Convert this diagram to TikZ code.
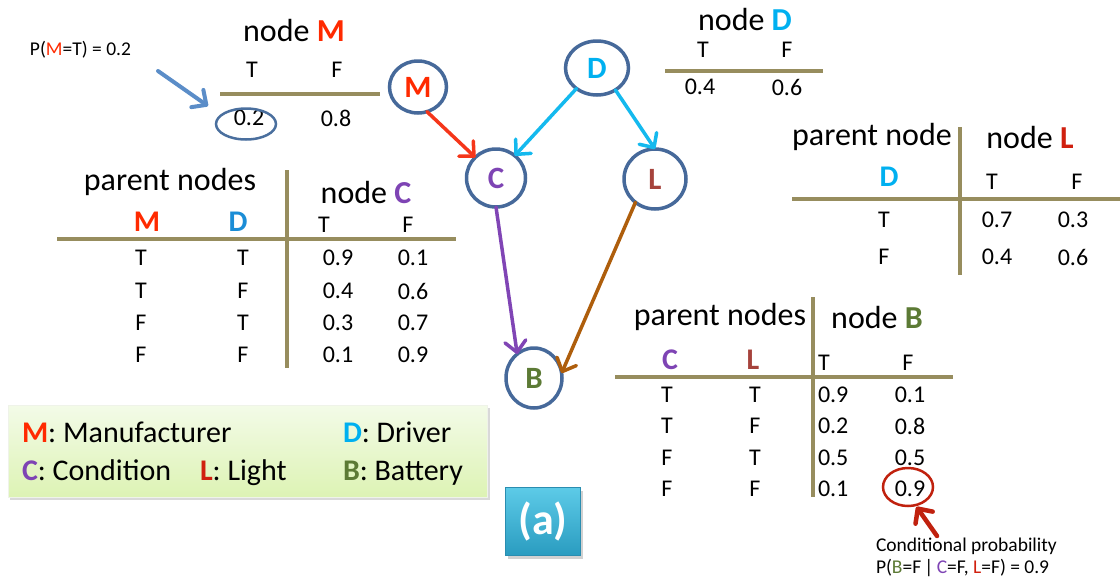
\documentclass[tikz,border=0pt]{standalone}
\usepackage{fontspec}
\setmainfont{Carlito}
\usetikzlibrary{shapes.geometric,arrows.meta}

% palette
\definecolor{tanline}{HTML}{978D5E}
\definecolor{nodeedge}{HTML}{46699A}
\definecolor{colM}{HTML}{FF2A00}
\definecolor{colD}{HTML}{00B0F0}
\definecolor{colDb}{HTML}{1B8DD6}
\definecolor{colC}{HTML}{7E44B4}
\definecolor{colL}{HTML}{A6433C}
\definecolor{colLr}{HTML}{D0200F}
\definecolor{colB}{HTML}{5C7A35}
\definecolor{arrRed}{HTML}{F5361A}
\definecolor{arrCyan}{HTML}{14B9EE}
\definecolor{arrPurple}{HTML}{8045B5}
\definecolor{arrBrown}{HTML}{AE5E0C}
\definecolor{noteBlue}{HTML}{5B8DC8}
\definecolor{ringBlue}{HTML}{4A6F9E}
\definecolor{noteRed}{HTML}{C0210E}
\definecolor{legTop}{HTML}{F3FBE8}
\definecolor{legBot}{HTML}{DDF3B4}
\definecolor{btnTop}{HTML}{5DCBE8}
\definecolor{btnBot}{HTML}{2A9CC0}
\definecolor{btnEdge}{HTML}{2A8DB0}

\tikzset{
  every node/.style={inner sep=0pt, outer sep=0pt},
  hdr/.style={font=\fontsize{32}{36}\selectfont},
  cell/.style={font=\fontsize{24}{28}\selectfont},
  lbl/.style={font=\bfseries\fontsize{30}{34}\selectfont},
  legtxt/.style={anchor=base west, font=\fontsize{30}{34}\selectfont},
  note/.style={anchor=base west, font=\fontsize{19.5}{23}\selectfont},
  tabline/.style={draw=tanline, line width=4pt},
  bn/.style={ellipse, draw=nodeedge, line width=3.5pt, fill=white,
             font=\bfseries\fontsize{31}{34}\selectfont},
  edge/.style={line width=3.5pt, line cap=round,
               -{Straight Barb[length=11pt,width=21pt,round]}},
  ring/.style={ellipse, line width=2.5pt},
}

\begin{document}
\begin{tikzpicture}[x=1pt,y=-1pt]
\useasboundingbox (0,0) rectangle (1120,582);

% ---------------- network ----------------
\node[bn, minimum width=57, minimum height=52, text=colM] (M) at (418,87) {M};
\node[bn, minimum width=63, minimum height=54, text=colD] (D) at (597,68) {D};
\node[bn, minimum width=59, minimum height=58, text=colC] (C) at (496,178) {C};
\node[bn, minimum width=62, minimum height=60, text=colL] (L) at (655,179) {L};
\node[bn, minimum width=56, minimum height=60, text=colB] (B) at (534,378) {B};

\draw[edge, draw=arrRed]    (M.-70)  -- (C.135);
\draw[edge, draw=arrCyan]   (D.-135) -- (C.50);
\draw[edge, draw=arrCyan]   (D.-50)  -- (L.north);
\draw[edge, draw=arrPurple] (C.south) -- (B.125);
\draw[edge, draw=arrBrown]  (L.-130) -- (B.10);

% ---------------- node M table ----------------
\node[note] (noteM) at (30,55) {P(\textcolor{colM}{M}=T) = 0.2};
\node[hdr] (titleM) at (294,30) {node \textcolor{colM}{\bfseries M}};
\node[cell] (mT) at (252,70) {T};
\node[cell] (mF) at (337,70) {F};
\draw[tabline] (220,94) -- (380,94);
\node[cell] (m02) at (249,118) {0.2};
\node[cell] (m08) at (336,118) {0.8};
\node[ring, draw=ringBlue, minimum width=60, minimum height=31] (ring02) at (246,124) {};
\coordinate (ptrTail) at (158,71);
\coordinate (ptrHead) at (208,106);
\draw[edge, draw=noteBlue, line width=4pt] (ptrTail) -- (ptrHead);

% ---------------- node D table ----------------
\node[hdr] (titleD) at (745,19) {node \textcolor{colD}{\bfseries D}};
\node[cell] (dT) at (703,50) {T};
\node[cell] (dF) at (787,50) {F};
\draw[tabline] (665,71) -- (823,71);
\node[cell] (d04) at (700,87) {0.4};
\node[cell] (d06) at (787,87) {0.6};

% ---------------- node L table ----------------
\node[hdr] (parL) at (872,137) {parent node};
\node[hdr] (titleL) at (1030,137) {node \textcolor{colLr}{\bfseries L}};
\node[lbl, text=colD] (lD) at (889,177) {D};
\node[cell] (lT) at (992,182) {T};
\node[cell] (lF) at (1077,182) {F};
\draw[tabline] (792,199) -- (1120,199);
\draw[tabline] (960,127) -- (960,275);
\node[cell] (l1a) at (884,220) {T};
\node[cell] (l1b) at (997,220) {0.7};
\node[cell] (l1c) at (1073,220) {0.3};
\node[cell] (l2a) at (884,257) {F};
\node[cell] (l2b) at (997,257) {0.4};
\node[cell] (l2c) at (1073,257) {0.6};

% ---------------- node C table ----------------
\node[hdr] (parC) at (170,182) {parent nodes};
\node[hdr] (titleC) at (366,192) {node \textcolor{colC}{\bfseries C}};
\node[lbl, text=colM] (cM) at (147,222) {M};
\node[lbl, text=colDb] (cD) at (238,222) {D};
\node[cell] (cT) at (324,225) {T};
\node[cell] (cF) at (408,225) {F};
\draw[tabline] (57,239) -- (456,239);
\draw[tabline] (287,170) -- (287,368);
\foreach \y/\a/\b/\p/\q [count=\i] in
  {258/T/T/0.9/0.1, 291/T/F/0.4/0.6, 323/F/T/0.3/0.7, 355/F/F/0.1/0.9}{
  \node[cell] (c\i a) at (141,\y) {\a};
  \node[cell] (c\i b) at (243,\y) {\b};
  \node[cell] (c\i c) at (338,\y) {\p};
  \node[cell] (c\i d) at (413,\y) {\q};
}

% ---------------- node B table ----------------
\node[hdr] (parB) at (720,317) {parent nodes};
\node[hdr] (titleB) at (877,317) {node \textcolor{colB}{\bfseries B}};
\node[lbl, text=colC] (bC) at (670,360) {C};
\node[lbl, text=colL] (bL) at (753,360) {L};
\node[cell, anchor=west] (bT) at (818,363) {T};
\node[cell] (bF) at (908,363) {F};
\draw[tabline] (615,377) -- (953,377);
\draw[tabline] (813,297) -- (813,497);
\foreach \y/\a/\b/\p/\q [count=\i] in
  {395/T/T/0.9/0.1, 426/T/F/0.2/0.8, 458/F/T/0.5/0.5, 489/F/F/0.1/0.9}{
  \node[cell] (b\i a) at (667,\y) {\a};
  \node[cell] (b\i b) at (755,\y) {\b};
  \node[cell, anchor=west] (b\i c) at (818,\y) {\p};
  \node[cell] (b\i d) at (910,\y) {\q};
}
\node[ring, draw=noteRed, minimum width=50, minimum height=38] (ring09) at (908,487) {};
\coordinate (condTail) at (937,536);
\draw[edge, draw=noteRed, line width=4.5pt, shorten >=2pt] (condTail) -- (ring09.-68);
\node[note] (cond1) at (876,551) {Conditional probability};
\node[note] (cond2) at (876,573)
  {P(\textcolor{colB}{B}=F\,|\,\textcolor{colC}{C}=F, \textcolor{colLr}{L}=F) = 0.9};

% ---------------- legend ----------------
\fill[black!25, opacity=0.6] (10,408) rectangle (490,500);
\shade[top color=legTop, bottom color=legBot, draw=legBot!80!black!20!white]
  (8,405) rectangle (487,497);
\node[legtxt] (legM) at (22,442) {\textbf{\textcolor{colM}{M}}: Manufacturer};
\node[legtxt] (legD) at (343,442) {\textbf{\textcolor{colD}{D}}: Driver};
\node[legtxt] (legC) at (22,480) {\textbf{\textcolor{colC}{C}}: Condition};
\node[legtxt] (legL) at (200,480) {\textbf{\textcolor{colLr}{L}}: Light};
\node[legtxt] (legB) at (343,480) {\textbf{\textcolor{colB}{B}}: Battery};

% ---------------- caption button ----------------
\fill[black!30, opacity=0.6] (508,491) rectangle (583,559);
\node[rectangle, top color=btnTop, bottom color=btnBot, draw=btnEdge, line width=1pt,
      minimum width=75, minimum height=68, text=white,
      font=\bfseries\fontsize{44}{48}\selectfont] (tag) at (543,521) {(a)};

\end{tikzpicture}
\end{document}
